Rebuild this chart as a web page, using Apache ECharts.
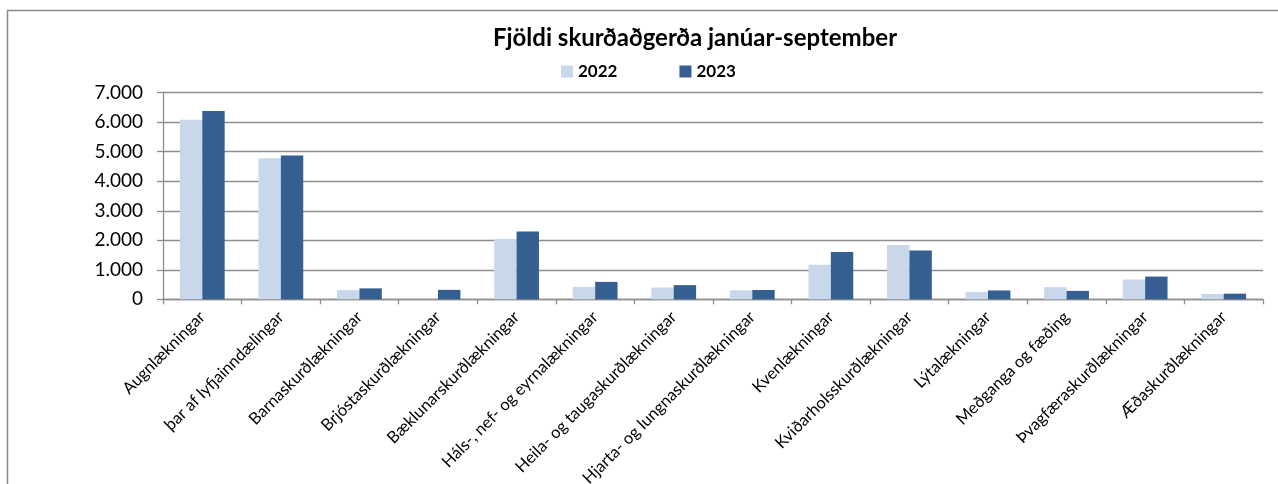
<!DOCTYPE html>
<html>
<head>
<meta charset="utf-8">
<script src="https://cdn.jsdelivr.net/npm/echarts@6/dist/echarts.min.js"></script>
<style>
  html, body { margin: 0; padding: 0; background: #fff; }
  #chart { width: 1278px; height: 484px; }
</style>
</head>
<body>
<div id="chart"></div>
<script>
// Surgical specialties (January–September)
const categories = [
  'Augnlækningar',
  'þar af lyfjainndælingar',
  'Barnaskurðlækningar',
  'Brjóstaskurðlækningar',
  'Bæklunarskurðlækningar',
  'Háls-, nef- og eyrnalækningar',
  'Heila- og taugaskurðlækningar',
  'Hjarta- og lungnaskurðlækningar',
  'Kvenlækningar',
  'Kviðarholsskurðlækningar',
  'Lýtalækningar',
  'Meðganga og fæðing',
  'Þvagfæraskurðlækningar',
  'Æðaskurðlækningar'
];

const values2022 = [6080, 4780, 310, 0, 2040, 420, 400, 305, 1170, 1840, 250, 410, 670, 180];
const values2023 = [6380, 4870, 370, 320, 2300, 590, 480, 315, 1600, 1650, 300, 285, 770, 190];

const seriesNames = ['2022', '2023'];
const titleText = 'Fjöldi skurðaðgerða janúar-september';

const yMin = 0, yMax = 7000, yStep = 1000;

const fontFamily = 'Lato, "Open Sans", "DejaVu Sans", sans-serif';
const gridColor = '#8e8e8e';

function formatThousands(v) {
  return String(v).replace(/\B(?=(\d{3})+(?!\d))/g, '.');
}

const chart = echarts.init(document.getElementById('chart'), null, { renderer: 'canvas' });

chart.setOption({
  animation: false,
  backgroundColor: '#ffffff',
  textStyle: { fontFamily: fontFamily },
  title: {
    text: titleText,
    left: 690,
    top: 21,
    textAlign: 'center',
    textStyle: { fontSize: 24, fontWeight: 'bold', color: '#000', fontFamily: fontFamily }
  },
  legend: {
    data: seriesNames,
    left: 556,
    top: 58,
    itemWidth: 12,
    itemHeight: 12,
    itemGap: 62,
    icon: 'rect',
    textStyle: { fontSize: 17, fontWeight: 'bold', color: '#000', fontFamily: fontFamily }
  },
  graphic: [{
    type: 'rect',
    shape: { x: 7.5, y: 10.5, width: 1300, height: 500 },
    style: { fill: 'none', stroke: '#8a8a8a', lineWidth: 1.5 },
    silent: true,
    z: 100
  }],
  grid: {
    left: 163,
    right: 15,
    top: 92.7,
    bottom: 184.7,
    containLabel: false,
    outerBoundsMode: 'none'
  },
  xAxis: {
    type: 'category',
    data: categories,
    axisLine: { show: true, lineStyle: { color: gridColor, width: 1.3 } },
    axisTick: { show: true, alignWithLabel: false, length: 5, lineStyle: { color: gridColor, width: 1.3 } },
    axisLabel: {
      interval: 0,
      rotate: 45,
      margin: 15,
      fontSize: 16.5,
      color: '#000',
      fontFamily: fontFamily
    },
    splitLine: { show: false }
  },
  yAxis: {
    type: 'value',
    min: yMin,
    max: yMax,
    interval: yStep,
    axisLine: { show: true, lineStyle: { color: gridColor, width: 1.3 } },
    axisTick: { show: true, length: 6, lineStyle: { color: gridColor, width: 1.3 } },
    axisLabel: {
      fontSize: 19,
      color: '#000',
      margin: 20,
      fontFamily: fontFamily,
      formatter: formatThousands
    },
    splitLine: { show: true, lineStyle: { color: gridColor, width: 1.3 } }
  },
  series: [
    {
      name: seriesNames[0],
      type: 'bar',
      data: values2022,
      barGap: '0%',
      barCategoryGap: '43%',
      itemStyle: { color: '#c8d7ea' }
    },
    {
      name: seriesNames[1],
      type: 'bar',
      data: values2023,
      barGap: '0%',
      barCategoryGap: '43%',
      itemStyle: { color: '#355e91' }
    }
  ]
});
</script>
</body>
</html>
